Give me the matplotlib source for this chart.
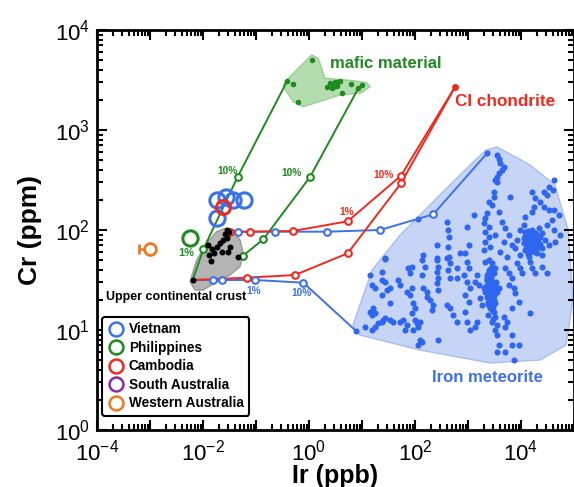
import numpy as np
import matplotlib
matplotlib.use("Agg")
import matplotlib.pyplot as plt
from matplotlib.patches import Polygon
from matplotlib.lines import Line2D
from matplotlib import ticker

plt.rcParams['font.family'] = ['Liberation Sans', 'DejaVu Sans']
plt.rcParams['mathtext.fontset'] = 'custom'
plt.rcParams['mathtext.rm'] = 'Liberation Sans'
plt.rcParams['mathtext.bf'] = 'Liberation Sans:bold'

# ---------------- data (log10 Ir [ppb], log10 Cr [ppm]) ----------------
# samples
vietnam_ir = [0.0186, 0.0272, 0.0363, 0.0594, 0.0186]
vietnam_cr = [200, 215, 200, 200, 131]
cambodia_ir = [0.0242]
cambodia_cr = [169]
philippines_ir = [0.00569]
philippines_cr = [82.6]
wa_ir = [0.0010]
wa_cr = [64]
wa_ir_err_low = [0.00037]

# upper continental crust
ucc_log_ir = [-2.195, -1.90, -1.837, -1.793, -1.88, -1.742, -1.679, -1.616, -1.553,
              -1.585, -1.503, -1.648, -1.855, -1.522, -1.491, -1.541, -1.346]
ucc_log_cr = [1.50, 1.85, 1.807, 1.773, 1.75, 1.833, 1.867, 1.90, 1.917,
              1.96, 1.983, 1.783, 1.693, 1.783, 1.833, 2.0, 1.733]
ucc_poly_ir = [-2.245, -2.119, -1.931, -1.742, -1.585, -1.428, -1.302, -1.239, -1.302,
               -1.491, -1.742, -1.994, -2.151]
ucc_poly_cr = [1.483, 1.70, 1.867, 1.983, 2.017, 2.0, 1.90, 1.767, 1.633,
               1.55, 1.483, 1.40, 1.40]

# mafic material
mafic_log_ir = [0.05, -0.409, -0.296, -0.202, 0.333, 0.396, 0.427, 0.49, 0.553,
                0.522, 0.584, 0.616, 0.786, 0.93, 1.006, 0.46, 0.45]
mafic_log_cr = [3.70, 3.493, 3.46, 3.283, 3.433, 3.467, 3.417, 3.483, 3.483,
                3.44, 3.493, 3.373, 3.457, 3.417, 3.45, 3.45, 3.43]
mafic_poly_ir = [-0.453, 0.05, 0.176, 0.302, 0.836, 1.088, 1.151, 0.994, 0.584,
                 -0.107, -0.296, -0.485]
mafic_poly_cr = [3.483, 3.75, 3.717, 3.517, 3.493, 3.473, 3.433, 3.373, 3.35,
                 3.233, 3.283, 3.433]

# CI chondrite
ci_log_ir = [2.755]
ci_log_cr = [3.43]

# iron meteorites
met_log_ir = [
    2.063, 2.598, 2.629, 2.648, 2.409, 2.629, 2.158, 2.422, 2.648, 2.85, 1.434,
    3.359, 3.547, 3.579, 3.61, 3.673, 3.642, 3.579, 3.547, 3.516, 3.547, 3.484, 3.484,
    3.39, 3.453, 3.799, 3.107, 3.359, 3.327, 3.296, 3.39, 3.327, 3.39, 3.327, 3.421,
    3.296, 2.981, 3.013, 2.95, 3.579, 3.642, 3.705, 3.767, 3.673, 3.83, 3.61, 3.736,
    3.516,
    4.617, 4.522, 4.598, 4.428, 4.491, 4.208, 4.271, 4.365, 4.428, 4.522, 4.617, 4.711,
    4.585, 4.491, 4.617, 4.742, 4.648, 4.239, 4.208, 4.082, 4.051, 3.988,
    4.082, 4.145, 4.208, 4.271, 4.113, 4.176, 4.239, 4.302, 4.05, 4.145, 4.208, 4.334,
    4.082, 4.176, 4.271, 4.397, 3.988, 4.145, 4.334, 4.397, 4.46, 4.522, 3.925, 3.893,
    4.11, 4.17, 4.24, 4.20, 4.30, 4.13, 4.05, 4.26,
    4.12, 4.19, 4.27, 4.33, 4.16, 4.23, 4.09, 4.29, 4.36, 4.21, 4.15, 4.25, 4.18, 4.31,
    4.07, 4.22, 4.14, 4.28, 4.40, 4.35,
    1.434, 1.875, 1.937, 1.906, 2.126, 2.189, 2.126, 2.409, 2.441, 2.422, 2.441, 2.409,
    2.598, 2.661, 2.629, 2.661, 2.787, 2.787, 1.371, 1.151, 1.371, 1.434, 1.183, 1.246,
    1.466, 1.529, 1.371, 1.686, 1.717, 1.843, 1.906, 1.937, 2.158, 2.22, 2.22, 2.283,
    2.441, 2.346, 2.315, 1.969, 2.0, 1.937, 1.529, 1.214, 1.151, 1.183, 1.246, 2.598,
    2.661, 2.724, 2.787, 1.057, 0.887, 1.183, 1.246, 1.309, 1.371, 1.403, 1.434, 1.529,
    1.591, 1.717, 1.78, 1.843, 1.812, 1.969, 2.0, 2.032, 2.095, 2.063, 2.095, 2.063,
    2.126, 2.441,
    2.981, 3.013, 2.918, 2.981, 3.044, 2.95, 3.013, 2.95, 2.981, 3.044,
    3.327, 3.39, 3.453, 3.516, 3.484, 3.421, 3.359, 3.453, 3.516, 3.39, 3.296, 3.327,
    3.421, 3.484, 3.547, 3.579, 3.359, 3.453, 3.516, 3.39, 3.421, 3.484, 3.516, 3.453,
    3.547, 3.516, 3.547, 3.579, 3.547,
    3.37, 3.40, 3.44, 3.47, 3.50, 3.36, 3.43, 3.46, 3.41, 3.49, 3.38, 3.45, 3.40, 3.47,
    3.35, 3.42, 3.48, 3.39, 3.44, 3.51, 3.37, 3.46, 3.41, 3.53, 3.34, 3.43, 3.49, 3.40,
    3.45, 3.38, 3.47, 3.42, 3.50, 3.36, 3.44, 3.48,
    3.17, 3.139, 3.201, 3.233, 3.264, 3.705, 3.767, 3.83, 3.767, 3.862, 3.893, 3.956,
    3.83, 3.925, 3.988, 4.019, 4.176, 4.208, 4.271, 4.397, 4.491, 4.176, 3.673, 3.736,
    3.705, 3.83, 3.83, 3.956, 3.705, 3.862, 3.17, 3.139,
]
met_log_cr = [
    2.11, 2.077, 2.0, 1.933, 1.85, 1.833, 1.75, 1.723, 1.733, 1.767, 1.717,
    2.767, 2.75, 2.71, 2.667, 2.633, 2.6, 2.567, 2.533, 2.5, 2.483, 2.383, 2.333,
    2.283, 2.25, 2.333, 2.15, 2.167, 2.117, 2.067, 2.033, 1.983, 1.933, 1.883, 1.833,
    1.80, 2.033, 1.85, 1.767, 2.183, 2.083, 2.017, 1.95, 1.883, 1.85, 1.783, 1.733,
    1.95,
    2.50, 2.433, 2.40, 2.383, 2.35, 2.383, 2.317, 2.283, 2.233, 2.20, 2.20, 2.15,
    2.10, 2.05, 2.0, 1.95, 1.883, 2.233, 2.183, 2.133, 2.05, 2.0,
    1.983, 1.967, 1.95, 1.933, 1.917, 1.90, 1.883, 1.867, 1.867, 1.85, 1.833, 1.833,
    1.80, 1.783, 1.783, 1.75, 1.75, 1.733, 2.017, 1.967, 1.90, 1.85, 1.90, 1.817,
    1.94, 1.92, 1.86, 1.81, 1.90, 1.76, 1.92, 1.97,
    1.88, 1.96, 1.89, 1.91, 1.84, 1.79, 1.82, 1.96, 1.86, 2.00, 1.93, 1.85, 1.80, 1.77,
    1.94, 1.87, 1.99, 1.83, 1.82, 1.93,
    1.71, 1.617, 1.633, 1.567, 1.70, 1.633, 1.55, 1.70, 1.633, 1.583, 1.517, 1.467,
    1.717, 1.667, 1.60, 1.517, 1.617, 1.517, 1.583, 1.55, 1.50, 1.483, 1.45, 1.417,
    1.40, 1.417, 1.35, 1.50, 1.45, 1.383, 1.35, 1.417, 1.417, 1.383, 1.333, 1.30,
    1.40, 1.25, 1.20, 1.267, 1.217, 1.167, 1.267, 1.217, 1.183, 1.15, 1.167, 1.25,
    1.217, 1.15, 1.083, 1.033, 0.99, 1.0, 1.033, 1.067, 1.083, 1.10, 1.117, 1.10,
    1.083, 1.083, 1.10, 1.05, 1.0, 1.0, 1.10, 1.067, 1.083, 1.033, 0.90, 0.85,
    0.877, 0.90,
    1.683, 1.617, 1.55, 1.483, 1.417, 1.35, 1.283, 1.183, 1.083, 1.0,
    1.683, 1.70, 1.667, 1.617, 1.567, 1.533, 1.50, 1.483, 1.45, 1.433, 1.417, 1.383,
    1.367, 1.35, 1.383, 1.417, 1.333, 1.30, 1.267, 1.25, 1.217, 1.183, 1.133, 1.083,
    1.05, 1.0, 0.95, 0.85, 0.783,
    1.46, 1.40, 1.52, 1.36, 1.42, 1.55, 1.32, 1.44, 1.49, 1.30, 1.28, 1.24, 1.58, 1.38,
    1.52, 1.47, 1.39, 1.33, 1.57, 1.43, 1.26, 1.41, 1.29, 1.48, 1.44, 1.54, 1.35, 1.60,
    1.20, 1.15, 1.23, 1.31, 1.37, 1.50, 1.62, 1.11,
    1.55, 1.483, 1.45, 1.317, 1.25, 1.617, 1.567, 1.517, 1.45, 1.417, 1.367, 1.283,
    1.217, 1.667, 1.617, 1.567, 1.683, 1.617, 1.567, 1.633, 1.567, 1.167, 1.133, 1.083,
    1.033, 0.95, 0.85, 0.85, 0.783, 0.70, 1.083, 1.033,
]
met_poly_ir = [3.34, 3.55, 4.17, 4.64, 4.89, 4.98, 4.85, 4.36, 3.42, 2.09, 0.96, 0.83,
               1.19, 1.72, 2.47, 3.04]
met_poly_cr = [2.80, 2.83, 2.65, 2.45, 2.0, 1.3, 0.85, 0.70, 0.67, 0.80, 0.95, 1.05,
               1.60, 1.95, 2.35, 2.65]

# mixing lines: (log Ir, log Cr); first = start, last = endmember; middle = open circles
green1_ir = [-2.195, -1.994, -1.345, -0.409]
green1_cr = [1.50, 1.807, 2.533, 3.493]
green2_ir = [-1.346, -1.251, -0.862, 0.019, 0.93]
green2_cr = [1.733, 1.74, 1.907, 2.53, 3.417]
red1_ir = [-1.541, -1.491, -1.113, -0.302, 0.730, 1.736, 2.755]
red1_cr = [2.0, 1.983, 1.983, 1.99, 2.087, 2.543, 3.43]
red2_ir = [-2.195, -1.175, -0.264, 0.730, 1.736, 2.755]
red2_cr = [1.50, 1.523, 1.55, 1.767, 2.467, 3.43]
blue1_ir = [-1.541, -1.334, -0.642, 0.334, 1.34, 2.345, 3.359]
blue1_cr = [2.0, 1.983, 1.983, 1.983, 2.0, 2.157, 2.767]
blue2_ir = [-2.195, -1.806, -1.647, -1.019, -0.107, 0.868]
blue2_cr = [1.50, 1.50, 1.50, 1.50, 1.473, 1.0]

# ---------------- colours ----------------
BLUE = '#3d72e6'
DOT = '#2f66f0'
GREEN = '#1f8a1f'
RED = '#ee2a1e'
ORANGE = '#ec7a22'
PURPLE = '#8e2a9e'

fig = plt.figure(figsize=(5.74, 4.87), dpi=100)
ax = fig.add_axes([97/574, 57/487, 477/574, 400/487])
ax.set_xscale('log')
ax.set_yscale('log')
ax.set_xlim(1e-4, 1e5)
ax.set_ylim(1e0, 1e4)

def P(a):
    return 10 ** np.asarray(a, dtype=float)

# polygons
ax.add_patch(Polygon(np.column_stack([P(met_poly_ir), P(met_poly_cr)]), closed=True,
                     facecolor='#c6d5f6', edgecolor='#a9bdee', lw=1, joinstyle='round', zorder=1))
ax.add_patch(Polygon(np.column_stack([P(mafic_poly_ir), P(mafic_poly_cr)]), closed=True,
                     facecolor='#b3dcaf', edgecolor='#9bcf96', lw=1, joinstyle='round', zorder=1))
ax.add_patch(Polygon(np.column_stack([P(ucc_poly_ir), P(ucc_poly_cr)]), closed=True,
                     facecolor='#b4b4b4', edgecolor='#999999', lw=1, joinstyle='round', zorder=1))

# meteorite dots
ax.plot(P(met_log_ir), P(met_log_cr), 'o', color=DOT, ms=4.4, mec='none', zorder=2)
# mafic dots
ax.plot(P(mafic_log_ir), P(mafic_log_cr), 'o', color=GREEN, ms=4.0, mec='none', zorder=2)
# UCC dots
ax.plot(P(ucc_log_ir), P(ucc_log_cr), 'o', color='black', ms=4.3, mec='none', zorder=6)
# CI chondrite
ax.plot(P(ci_log_ir), P(ci_log_cr), 'o', color=RED, ms=5, mec='none', zorder=6)

def mixline(lx, ly, col):
    x, y = P(lx), P(ly)
    ax.plot(x, y, '-', color=col, lw=1.4, zorder=3)
    ax.plot(x[1:-1], y[1:-1], 'o', mfc='white', mec=col, mew=1.5, ms=4.8, zorder=4)

mixline(green1_ir, green1_cr, GREEN)
mixline(green2_ir, green2_cr, GREEN)
mixline(blue1_ir, blue1_cr, BLUE)
mixline(blue2_ir, blue2_cr, BLUE)
mixline(red1_ir, red1_cr, RED)
mixline(red2_ir, red2_cr, RED)

# samples
ax.plot(vietnam_ir, vietnam_cr, 'o', mfc='none', mec=BLUE, mew=2.2, ms=11, zorder=7)
ax.plot(cambodia_ir, cambodia_cr, 'o', mfc='none', mec=RED, mew=2.2, ms=10, zorder=8)
ax.plot(philippines_ir, philippines_cr, 'o', mfc='none', mec=GREEN, mew=2.2, ms=11, zorder=7)
ax.errorbar(wa_ir, wa_cr, xerr=[wa_ir_err_low, [0]], fmt='o', mfc='white', mec=ORANGE,
            ecolor=ORANGE, mew=2.0, ms=8.5, elinewidth=1.8, capsize=3.5, capthick=1.8, zorder=7)

# annotations
bold = dict(fontweight='bold')
ax.text(P(0.40), P(3.67), 'mafic material', color=GREEN, fontsize=12, va='center', **bold)
ax.text(P(2.75), P(3.28), 'CI chondrite', color=RED, fontsize=12.3, va='center', **bold)
ax.text(P(-1.53), P(2.585), '10%', color=GREEN, fontsize=7.3, ha='center', va='center', **bold)
ax.text(P(-0.33), P(2.575), '10%', color=GREEN, fontsize=7.3, ha='center', va='center', **bold)
ax.text(P(-2.32), P(1.765), '1%', color=GREEN, fontsize=8, ha='center', va='center', **bold)
ax.text(P(1.40), P(2.545), '10%', color=RED, fontsize=7.3, ha='center', va='center', **bold)
ax.text(P(0.72), P(2.18), '1%', color=RED, fontsize=7.3, ha='center', va='center', **bold)
ax.text(P(-1.04), P(1.385), '1%', color=BLUE, fontsize=7.3, ha='center', va='center', **bold)
ax.text(P(-0.15), P(1.365), '10%', color=BLUE, fontsize=7.3, ha='center', va='center', **bold)
ax.text(P(-3.83), P(1.33), 'Upper continental crust', color='black', fontsize=9, va='center', **bold)
ax.text(P(3.36), P(0.52), 'Iron meteorite', color=BLUE, fontsize=12, ha='center', va='center', **bold)

# axes styling
for s in ax.spines.values():
    s.set_linewidth(2)
ax.tick_params(which='both', direction='in', top=True, right=True, width=1.5)
ax.tick_params(which='major', length=7, labelsize=16)
ax.tick_params(axis='x', which='major', pad=7)
ax.tick_params(axis='y', which='major', pad=5)
ax.tick_params(which='minor', length=4)
ax.xaxis.set_major_locator(ticker.LogLocator(base=10, numticks=20))
ax.xaxis.set_minor_locator(ticker.LogLocator(base=10, subs=np.arange(2, 10), numticks=20))
ax.yaxis.set_major_locator(ticker.LogLocator(base=10, numticks=20))
ax.yaxis.set_minor_locator(ticker.LogLocator(base=10, subs=np.arange(2, 10), numticks=20))

def xfmt(v, pos):
    e = int(round(np.log10(v)))
    return r'$\mathregular{10^{%d}}$' % e if e % 2 == 0 else ''
def yfmt(v, pos):
    e = int(round(np.log10(v)))
    return r'$\mathregular{10^{%d}}$' % e
ax.xaxis.set_major_formatter(ticker.FuncFormatter(xfmt))
ax.yaxis.set_major_formatter(ticker.FuncFormatter(yfmt))
ax.xaxis.set_minor_formatter(ticker.NullFormatter())
ax.yaxis.set_minor_formatter(ticker.NullFormatter())

ax.set_xlabel('Ir (ppb)', fontsize=18, fontweight='bold', labelpad=-1)
ax.set_ylabel('Cr (ppm)', fontsize=19, fontweight='bold', labelpad=9)

# legend
handles = [Line2D([], [], ls='none', marker='o', mfc='none', mec=c, mew=1.8, ms=10)
           for c in [BLUE, GREEN, RED, PURPLE, ORANGE]]
labels = ['Vietnam', 'Philippines', 'Cambodia', 'South Australia', 'Western Australia']
leg = ax.legend(handles, labels, loc='lower left', bbox_to_anchor=(0.0, 0.022),
                prop=dict(size=9.8, weight='bold'), frameon=True, fancybox=True,
                handletextpad=0.35, labelspacing=0.33, borderpad=0.4, handlelength=1.2,
                borderaxespad=0.4)
leg.get_frame().set_edgecolor('black')
leg.get_frame().set_linewidth(1.5)
leg.get_frame().set_alpha(1)
leg.set_zorder(10)

fig.savefig('out.png', dpi=100)
